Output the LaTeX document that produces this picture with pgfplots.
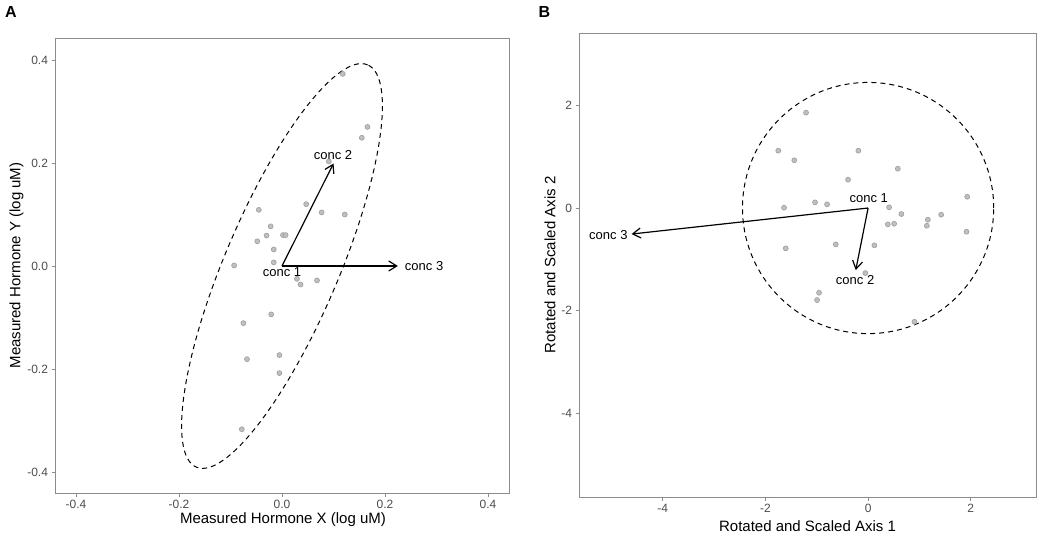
\documentclass[border=0pt]{standalone}
\usepackage{fontspec}
\setmainfont{Liberation Sans}
\usepackage{pgfplots}
\pgfplotsset{compat=1.18}
\usetikzlibrary{arrows.meta}
\tikzset{lbl/.style={font=\fontsize{13}{15}\selectfont, inner sep=0pt}}
\begin{document}
\begin{tikzpicture}[x=1pt,y=1pt]
\path[use as bounding box] (0,0) rectangle (1050,536);
\pgfplotsset{
 mystyle/.style={scale only axis, anchor=south west,
   axis line style={black!45, line width=0.8pt},
   tick style={black!45, line width=0.8pt},
   tick align=outside, major tick length=3.5pt,
   tick label style={font=\fontsize{12}{14}\selectfont, text=black!70},
   xtick pos=bottom, ytick pos=left, clip=true},
 ptstyle/.style={only marks, mark=*, mark size=2.5pt,
   mark options={fill=black!25, draw=black!38, line width=0.6pt}},
 arr/.style={black, line width=1.2pt, -{Straight Barb[length=8pt,width=10pt,line width=1.2pt]}},
}
% Panel A
\begin{axis}[mystyle, at={(55pt,43pt)}, width=454pt, height=455pt,
  xmin=-0.4408, xmax=0.4408, ymin=-0.4408, ymax=0.4427,
  xtick={-0.4,-0.2,0,0.2,0.4}, xticklabels={-0.4,-0.2,0.0,0.2,0.4},
  ytick={-0.4,-0.2,0,0.2,0.4}, yticklabels={-0.4,-0.2,0.0,0.2,0.4}]
\draw[black, line width=1pt, dash pattern=on 5pt off 4pt, rotate around={66.94:(axis cs:0,0)}]
  (axis cs:0,0) ellipse [x radius=218.6pt, y radius=57.0pt];
\addplot[ptstyle] coordinates {
 (0.118,0.373) (0.166,0.270) (0.155,0.249) (0.091,0.203) (0.047,0.120)
 (0.077,0.104) (0.122,0.100) (-0.045,0.109) (-0.022,0.077) (-0.030,0.059)
 (0.002,0.060) (0.007,0.060) (-0.048,0.048) (-0.016,0.032) (-0.093,0.001)
 (-0.016,0.007) (0.029,-0.025) (0.036,-0.036) (0.068,-0.028) (-0.021,-0.094)
 (-0.075,-0.111) (-0.068,-0.181) (-0.005,-0.173) (-0.005,-0.208) (-0.078,-0.317)};
\addplot[arr] coordinates {(0,0) (0.100,0.199)};
\addplot[arr] coordinates {(0,0) (0.225,0)};
\node[lbl] at (axis cs:0,-0.0117) {conc 1};
\node[lbl] at (axis cs:0.099,0.2155) {conc 2};
\node[lbl] at (axis cs:0.276,0) {conc 3};
\end{axis}
% Panel B
\begin{axis}[mystyle, at={(579pt,39pt)}, width=457pt, height=464pt,
  xmin=-5.63, xmax=3.27, ymin=-5.63, ymax=3.41,
  xtick={-4,-2,0,2}, xticklabels={-4,-2,0,2},
  ytick={-4,-2,0,2}, yticklabels={-4,-2,0,2}]
\draw[black, line width=1pt, dash pattern=on 5pt off 4pt]
  (axis cs:0,0) circle [radius=125.6pt];
\addplot[ptstyle] coordinates {
 (-1.209,1.858) (-1.749,1.117) (-1.437,0.930) (-0.189,1.117) (0.579,0.766)
 (-0.390,0.552) (1.930,0.220) (-1.033,0.111) (-0.799,0.072) (-1.637,0.006)
 (0.409,0.014) (0.649,-0.117) (1.423,-0.131) (1.164,-0.228) (1.144,-0.345)
 (0.384,-0.318) (0.507,-0.306) (1.916,-0.462) (-0.630,-0.708) (0.123,-0.727)
 (-1.604,-0.786) (-0.053,-1.267) (-0.955,-1.651) (-0.994,-1.793) (0.903,-2.216)};
\addplot[arr] coordinates {(0,0) (-4.606,-0.507)};
\addplot[arr] coordinates {(0,0) (-0.240,-1.209)};
\node[lbl] at (axis cs:0.014,0.189) {conc 1};
\node[lbl] at (axis cs:-0.253,-1.404) {conc 2};
\node[lbl] at (axis cs:-5.058,-0.526) {conc 3};
\end{axis}
\node[font=\fontsize{15}{18}\selectfont] at (283,16) {Measured Hormone X (log uM)};
\node[font=\fontsize{15}{18}\selectfont, rotate=90] at (16.5,270.5) {Measured Hormone Y (log uM)};
\node[font=\fontsize{15}{18}\selectfont] at (807.5,9.5) {Rotated and Scaled Axis 1};
\node[font=\fontsize{15}{18}\selectfont, rotate=90] at (550,271) {Rotated and Scaled Axis 2};
\node[font=\bfseries\fontsize{16}{18}\selectfont] at (11,524) {A};
\node[font=\bfseries\fontsize{16}{18}\selectfont] at (544.5,524) {B};
\end{tikzpicture}
\end{document}
